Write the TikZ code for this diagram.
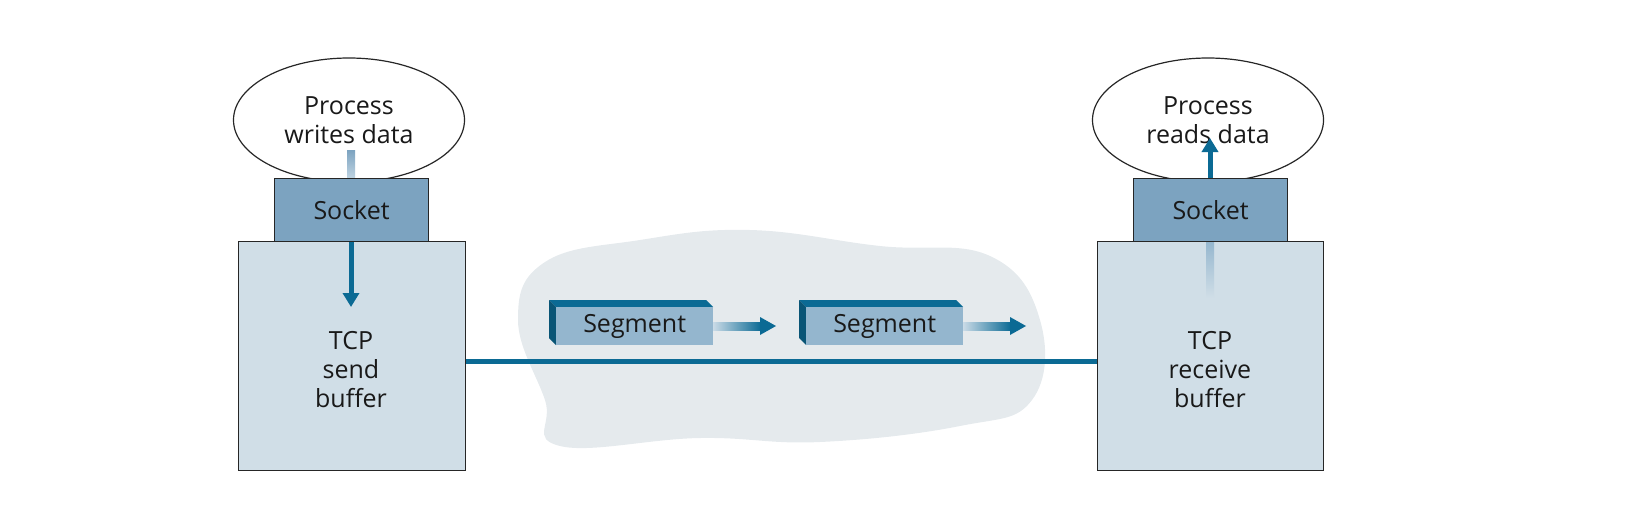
\documentclass[tikz,border=0pt]{standalone}
\usepackage{fontspec}
\setmainfont{Open Sans}
\usetikzlibrary{arrows.meta,shapes.geometric}
\definecolor{dk}{HTML}{0B6A94}
\definecolor{sock}{HTML}{7CA3C0}
\definecolor{buf}{HTML}{D0DEE7}
\definecolor{cloud}{HTML}{E5EAED}
\definecolor{seg}{HTML}{94B6CE}
\tikzset{
  txt/.style={font=\fontsize{25}{29}\selectfont, align=center, text=black!90},
  box/.style={draw=black!85, line width=1.2pt},
  proc/.style={box, ellipse, fill=white, minimum width=231pt, minimum height=124pt},
  arr/.style={-{Triangle[length=14pt,width=16pt]}, line width=5pt, dk},
}
\begin{document}
\begin{tikzpicture}[x=1pt,y=-1pt]
\useasboundingbox (0,0) rectangle (1646,528);
% cloud
\fill[cloud] plot[smooth cycle, tension=0.7] coordinates {(545,262) (640,240) (750,230) (880,246) (990,256) (1040,320) (1032,400) (960,426) (820,442) (700,438) (560,446) (545,400) (518,320)};
% left
\node[proc, txt] (pl) at (349,120) {Process\\writes data};
\node[box, fill=buf, minimum width=227pt, minimum height=229pt, anchor=north west] (bl) at (238,241) {};
\node[txt] at (351,370) {TCP\\send\\buffer};
\shade[top color=sock, bottom color=seg!60] (347,150) rectangle (355,178);
\node[box, fill=sock, minimum width=154pt, minimum height=63pt, anchor=north west, txt] (sl) at (274,178) {Socket};
\coordinate (al) at (351,307);
\draw[arr] (sl.south -| al) -- (al);
% right
\node[proc, txt] (pr) at (1208,120) {Process\\reads data};
\node[box, fill=buf, minimum width=226pt, minimum height=229pt, anchor=north west] (br) at (1097,241) {};
\node[txt] at (1210,370) {TCP\\receive\\buffer};
\shade[top color=seg, bottom color=buf] (1206,241) rectangle (1214,298);
\node[box, fill=sock, minimum width=154pt, minimum height=63pt, anchor=north west, txt] (sr) at (1133,178) {Socket};
\coordinate (ar) at (1210,138);
\draw[arr] (sr.north -| ar) -- (ar);
% line
\draw[dk, line width=5pt] (bl.east |- 0,361) -- (br.west |- 0,361);
% segments
\foreach \x/\n in {556/a,806/b}{
  \fill[dk] (\x,307) -- (\x-7,300) -- (\x+150,300) -- (\x+157,307) -- cycle;
  \fill[dk!80!black] (\x,307) -- (\x-7,300) -- (\x-7,338) -- (\x,345) -- cycle;
  \node[fill=seg, minimum width=157pt, minimum height=38pt, anchor=north west, inner sep=0pt, txt] (s\n) at (\x,307) {Segment};
  \shade[left color=seg!50, right color=dk] (\x+157,322) rectangle (\x+205,330);
  \coordinate (e\n) at (\x+220,326);
  \fill[dk] (\x+204,317) -- (e\n) -- (\x+204,335) -- cycle;
}
\end{tikzpicture}
\end{document}
